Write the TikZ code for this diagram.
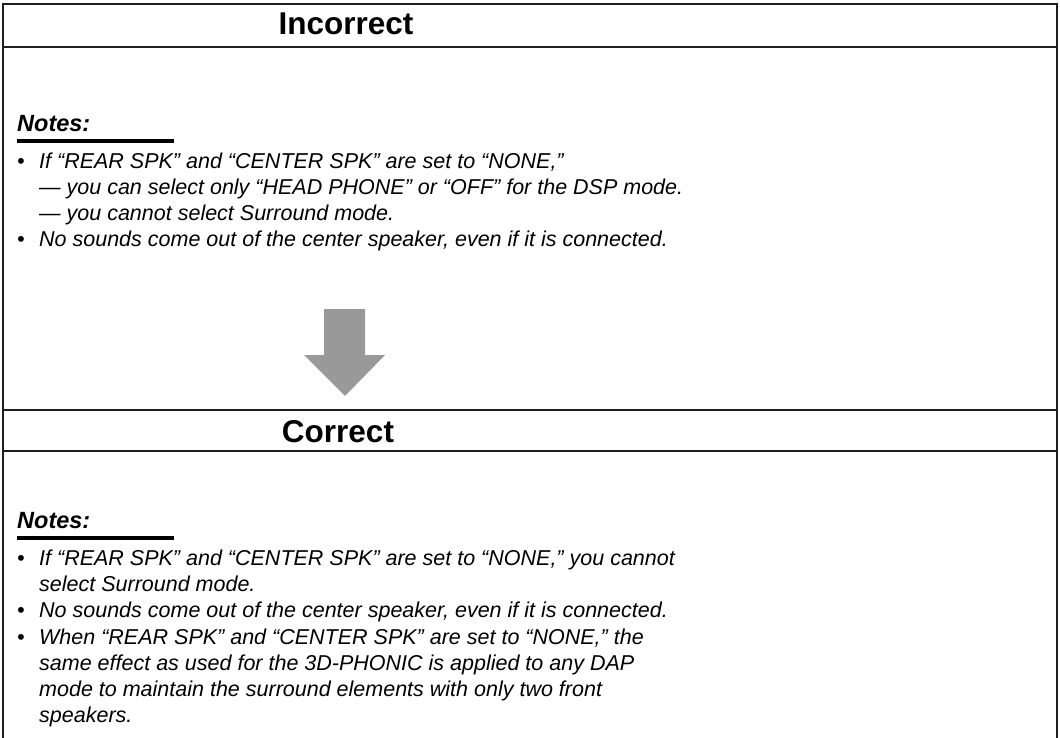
\documentclass[tikz,border=0pt]{standalone}
\usepackage{fontspec}
\setmainfont{Liberation Sans}
\begin{document}
\begin{tikzpicture}[x=1pt, y=-1pt,
frame/.style={draw=black!88, line width=2.5pt},
header/.style={anchor=base, inner sep=0pt, font=\fontsize{31.5}{34}\selectfont\bfseries},
notes/.style={anchor=base west, inner sep=0pt, font=\fontsize{23.5}{26}\selectfont\bfseries\itshape},
note/.style={anchor=base west, inner sep=0pt, font=\fontsize{21.5}{26}\selectfont\itshape}
]

\useasboundingbox (0,0) rectangle (1060,738);

% frame and header rules
\draw[frame] (3,738) -- (3,4) -- (1057,4) -- (1057,738);
\draw[frame] (3,47) -- (1057,47);
\draw[frame] (3,410) -- (1057,410);
\draw[frame] (3,451) -- (1057,451);

\node[header] (incorrect) at (346,35) {Incorrect};
\node[header] (correct) at (338,442) {Correct};

% upper notes
\node[notes] (notesA) at (17,132) {Notes:};
\draw[line width=4.5pt] (notesA.base west) ++(0,9) -- ++(157,0);

\node[note] (a1) at (17,169) {•};
\node[note] (a1t) at (39,169) {If “REAR SPK” and “CENTER SPK” are set to “NONE,”};
\node[note] (a2t) at (39,195) {— you can select only “HEAD PHONE” or “OFF” for the DSP mode.};
\node[note] (a3t) at (39,221) {— you cannot select Surround mode.};
\node[note] (a4) at (17,247) {•};
\node[note] (a4t) at (39,247) {No sounds come out of the center speaker, even if it is connected.};

% arrow
\fill[black!40] (324,309) -- (365,309) -- (365,355) -- (385,355) -- (345,396)
  -- (304,355) -- (324,355) -- cycle;

% lower notes
\node[notes] (notesB) at (17,528) {Notes:};
\draw[line width=4.5pt] (notesB.base west) ++(0,10) -- ++(157,0);

\node[note] (b1) at (17,565) {•};
\node[note] (b1t) at (39,565) {If “REAR SPK” and “CENTER SPK” are set to “NONE,” you cannot};
\node[note] (b2t) at (39,591) {select Surround mode.};
\node[note] (b3) at (17,617) {•};
\node[note] (b3t) at (39,617) {No sounds come out of the center speaker, even if it is connected.};
\node[note] (b4) at (17,644) {•};
\node[note] (b4t) at (39,644) {When “REAR SPK” and “CENTER SPK” are set to “NONE,” the};
\node[note] (b5t) at (39,670) {same effect as used for the 3D-PHONIC is applied to any DAP};
\node[note] (b6t) at (39,696) {mode to maintain the surround elements with only two front};
\node[note] (b7t) at (39,722) {speakers.};

\end{tikzpicture}
\end{document}
